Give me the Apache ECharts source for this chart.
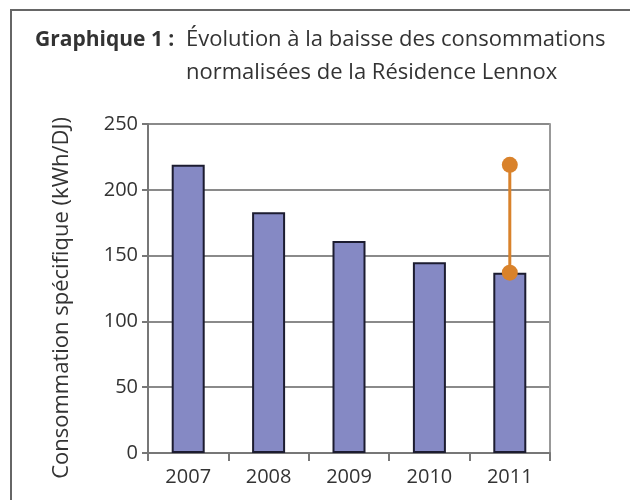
<!DOCTYPE html>
<html>
<head>
<meta charset="utf-8">
<script src="https://cdn.jsdelivr.net/npm/echarts@6/dist/echarts.min.js"></script>
<style>
	html, body { margin: 0; padding: 0; background: #fff; }
	#chart { width: 630px; height: 500px; }
</style>
</head>
<body>
<div id="chart"></div>
<script>
// données
var annees = ['2007', '2008', '2009', '2010', '2011'];
var consommation = [219, 183, 161, 145, 137];
// écart 2007 -> 2011 (trait orange)
var ecartAnnee = '2011';
var ecartValeurs = [219, 137];
var yTicks = [0, 50, 100, 150, 200, 250];

var myChart = echarts.init(document.getElementById('chart'));
var police = '"Open Sans", "Noto Sans", sans-serif';

var option = {
	animation: false,
	backgroundColor: '#fff',
	grid: { left: 148, right: 80, top: 124, bottom: 47 },
	graphic: [
		{
			type: 'rect',
			shape: { x: 11, y: 10, width: 640, height: 520 },
			style: { fill: 'none', stroke: '#666', lineWidth: 2 }
		},
		{
			type: 'text', x: 35, y: 40,
			style: { text: 'Graphique 1 :', font: 'bold 21px ' + police, fill: '#333', verticalAlign: 'middle' }
		},
		{
			type: 'text', x: 186, y: 40,
			style: { text: 'Évolution à la baisse des consommations', font: '22px ' + police, fill: '#333', verticalAlign: 'middle' }
		},
		{
			type: 'text', x: 186, y: 73,
			style: { text: 'normalisées de la Résidence Lennox', font: '22px ' + police, fill: '#333', verticalAlign: 'middle' }
		},
		{
			type: 'text', x: 62, y: 298, rotation: Math.PI / 2,
			style: { text: 'Consommation spécifique (kWh/DJ)', font: '22px ' + police, fill: '#333', align: 'center', verticalAlign: 'middle' }
		}
	],
	xAxis: {
		type: 'category',
		data: annees,
		boundaryGap: true,
		axisLine: { lineStyle: { color: '#777', width: 2 } },
		axisTick: { show: true, inside: false, length: 8, lineStyle: { color: '#777', width: 2 } },
		axisLabel: { color: '#333', fontSize: 20, fontFamily: police, margin: 14 }
	},
	yAxis: [
		{
			type: 'value',
			min: yTicks[0],
			max: yTicks[yTicks.length - 1],
			interval: 50,
			axisLine: { show: true, lineStyle: { color: '#777', width: 2 } },
			axisTick: { show: true, length: 6, lineStyle: { color: '#777', width: 2 } },
			axisLabel: { color: '#333', fontSize: 20, fontFamily: police, margin: 10 },
			splitLine: { show: true, lineStyle: { color: '#8a8a8a', width: 2 } }
		},
		{
			type: 'value',
			position: 'right',
			min: 0, max: 250, interval: 50,
			axisLine: { show: true, lineStyle: { color: '#999', width: 2 } },
			axisTick: { show: false },
			axisLabel: { show: false },
			splitLine: { show: false }
		}
	],
	series: [
		{
			type: 'bar',
			data: consommation,
			barWidth: 33,
			itemStyle: { color: '#8589c4', borderColor: '#1c1c30', borderWidth: 2 }
		},
		{
			type: 'line',
			data: [[ecartAnnee, ecartValeurs[0]], [ecartAnnee, ecartValeurs[1]]],
			symbol: 'circle',
			symbolSize: 16,
			lineStyle: { color: '#d9822b', width: 3 },
			itemStyle: { color: '#d9822b' },
			z: 5
		}
	]
};

myChart.setOption(option);
</script>
</body>
</html>
